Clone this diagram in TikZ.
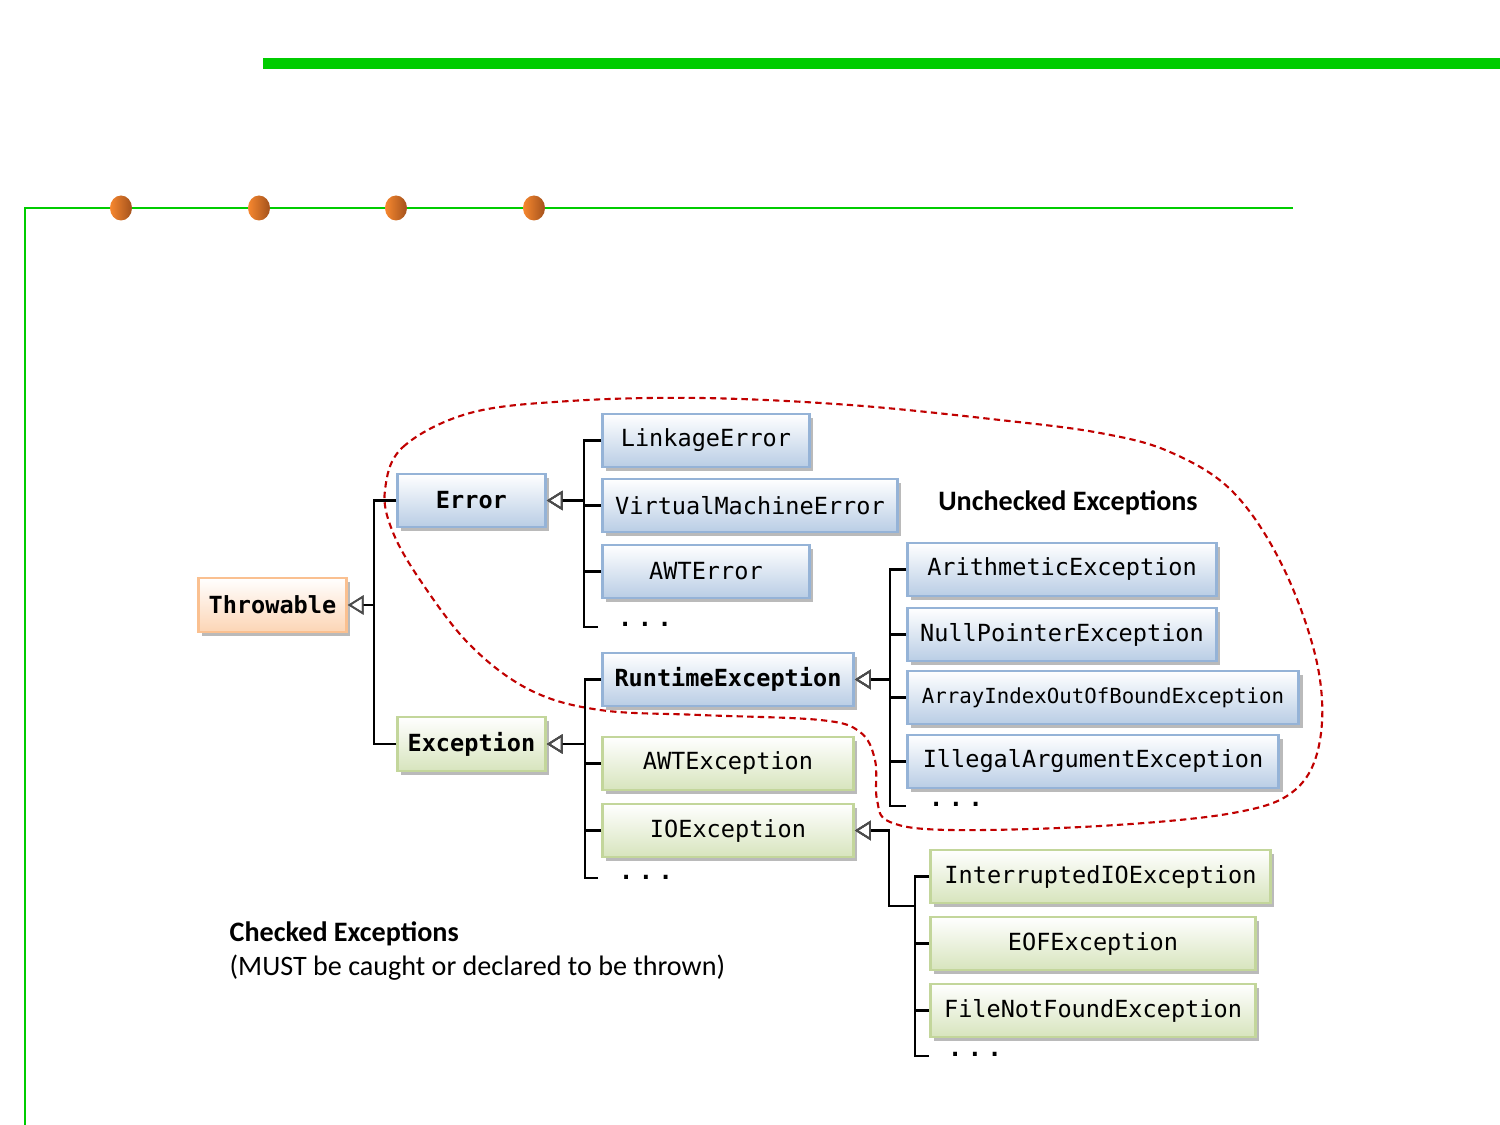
\documentclass[tikz,border=0pt]{standalone}
\usepackage{fontspec}
\setmonofont{DejaVu Sans Mono}
\newfontfamily\calibri{Carlito}
\usetikzlibrary{arrows.meta, shadows}

\definecolor{barGreen}{HTML}{00CC00}
\definecolor{dotOrange}{HTML}{F7882F}
\definecolor{dotBrown}{HTML}{A3511C}
\definecolor{errLine}{HTML}{95B3D7}
\definecolor{errFill}{HTML}{B9CDE5}
\definecolor{excLine}{HTML}{C3D69B}
\definecolor{excFill}{HTML}{D7E4BD}
\definecolor{thrLine}{HTML}{FAC090}
\definecolor{thrFill}{HTML}{FCD5B5}
\definecolor{loopRed}{HTML}{C00000}

\tikzset{
    cls/.style={draw, line width=0.8pt, minimum height=0.53cm, anchor=west, inner sep=0pt,
        font=\ttfamily\fontsize{6.7}{8}\selectfont,
        drop shadow={shadow xshift=1.1pt, shadow yshift=-1.1pt, fill=black!45, opacity=0.6}},
    bold cls/.style={font=\ttfamily\bfseries\fontsize{6.7}{8}\selectfont},
    blue cls/.style={cls, draw=errLine, top color=white, bottom color=errFill},
    green cls/.style={cls, draw=excLine, top color=white, bottom color=excFill},
    orange cls/.style={cls, draw=thrLine, top color=white, bottom color=thrFill},
    inh/.style={line width=0.6pt, -{Triangle[open, length=4.5pt, width=5.5pt, line width=0.5pt, color=black!70]}},
    dots/.style={font=\ttfamily\bfseries\fontsize{6.7}{8}\selectfont, inner sep=0pt},
}

\begin{document}
\begin{tikzpicture}[x=0.01cm, y=-0.01cm]
    \newcommand\colA{396}
    \newcommand\colB{601}
    \newcommand\colC{906}
    \newcommand\colD{929}

    \useasboundingbox (0,0) rectangle (1500,1125);

    % slide frame
    \fill[barGreen] (263,58) rectangle (1500,69);
    \draw[barGreen, line width=0.6pt] (25,1125) -- (25,208) -- (1293,208);
    \shade[left color=dotOrange, right color=dotBrown] (121,208) ellipse (0.11cm and 0.125cm);
    \shade[left color=dotOrange, right color=dotBrown] (259,208) ellipse (0.11cm and 0.125cm);
    \shade[left color=dotOrange, right color=dotBrown] (396,208) ellipse (0.11cm and 0.125cm);
    \shade[left color=dotOrange, right color=dotBrown] (534,208) ellipse (0.11cm and 0.125cm);

    % unchecked region
    \draw[loopRed, dash pattern=on 1.8pt off 1.2pt, line width=0.6pt] plot[smooth cycle, tension=0.6] coordinates {
        (385,490) (403,447) (470,413) (570,401) (700,398) (850,405) (1000,420) (1100,433)
        (1170,452) (1233,492) (1283,567) (1317,663) (1320,740) (1295,790) (1233,813) (1100,826)
        (950,830) (890,822) (877,800) (875,760) (860,732) (820,720) (700,715) (600,710)
        (530,690) (470,645) (420,580) (392,530)};

    \node[orange cls, bold cls, minimum width=1.48cm, minimum height=0.54cm] (Thr) at (197,605) {Throwable};
    \node[blue cls, bold cls, minimum width=1.48cm] (Err) at (\colA,500.5) {Error};
    \node[green cls, bold cls, minimum width=1.48cm, minimum height=0.54cm] (Exc) at (\colA,744) {Exception};

    \node[blue cls, minimum width=2.07cm] (Link) at (\colB,440.5) {LinkageError};
    \node[blue cls, minimum width=2.95cm] (VME) at (\colB,505.5) {VirtualMachineError};
    \node[blue cls, minimum width=2.07cm] (AWTErr) at (\colB,571.5) {AWTError};
    \node[dots] (dotsErr) at (645,624) {.\hspace{1.6pt}.\hspace{1.6pt}.};
    \coordinate (endErr) at (598,627);

    \node[blue cls, bold cls, minimum width=2.51cm] (RTE) at (\colB,679.5) {RuntimeException};
    \node[green cls, minimum width=2.51cm] (AWTExc) at (\colB,763.5) {AWTException};
    \node[green cls, minimum width=2.51cm] (IOE) at (\colB,830.5) {IOException};
    \node[dots] (dotsExc) at (646,877) {.\hspace{1.6pt}.\hspace{1.6pt}.};
    \coordinate (endExc) at (598,878);

    \node[blue cls, minimum width=3.09cm] (Arith) at (\colC,569.5) {ArithmeticException};
    \node[blue cls, minimum width=3.09cm] (NPE) at (\colC,634.5) {NullPointerException};
    \node[blue cls, minimum width=3.91cm, font=\ttfamily\fontsize{5.9}{7}\selectfont] (AIOOBE) at (\colC,697.5) {ArrayIndexOutOfBoundException};
    \node[blue cls, minimum width=3.71cm] (IAE) at (\colC,761.5) {IllegalArgumentException};
    \node[dots] (dotsRTE) at (956,804) {.\hspace{1.6pt}.\hspace{1.6pt}.};
    \coordinate (endRTE) at (906,806);

    \node[green cls, minimum width=3.40cm] (IIOE) at (\colD,876.5) {InterruptedIOException};
    \node[green cls, minimum width=3.25cm] (EOF) at (\colD,943.5) {EOFException};
    \node[green cls, minimum width=3.25cm] (FNF) at (\colD,1010.5) {FileNotFoundException};
    \node[dots] (dotsIOE) at (975,1054) {.\hspace{1.6pt}.\hspace{1.6pt}.};
    \coordinate (endIOE) at (929,1056);
    \coordinate (kneeIOE) at (889,906);

    % inheritance
    \draw[inh] (Err.west) -- ++(-22,0) |- (Thr.east);
    \draw[inh] (Exc.west) -- ++(-22,0) |- (Thr.east);

    \draw[inh] (Link.west) -- ++(-17,0) |- (Err.east);
    \draw[inh] (VME.west) -- ++(-17,0) |- (Err.east);
    \draw[inh] (AWTErr.west) -- ++(-17,0) |- (Err.east);
    \draw[inh] (endErr) -- ++(-14,0) |- (Err.east);

    \draw[inh] (RTE.west) -- ++(-16,0) |- (Exc.east);
    \draw[inh] (AWTExc.west) -- ++(-16,0) |- (Exc.east);
    \draw[inh] (IOE.west) -- ++(-16,0) |- (Exc.east);
    \draw[inh] (endExc) -- ++(-13,0) |- (Exc.east);

    \draw[inh] (Arith.west) -- ++(-16,0) |- (RTE.east);
    \draw[inh] (NPE.west) -- ++(-16,0) |- (RTE.east);
    \draw[inh] (AIOOBE.west) -- ++(-16,0) |- (RTE.east);
    \draw[inh] (IAE.west) -- ++(-16,0) |- (RTE.east);
    \draw[inh] (endRTE) -- ++(-16,0) |- (RTE.east);

    \draw[inh] (IIOE.west) -- ++(-14,0) |- (kneeIOE) |- (IOE.east);
    \draw[inh] (EOF.west) -- ++(-14,0) |- (kneeIOE) |- (IOE.east);
    \draw[inh] (FNF.west) -- ++(-14,0) |- (kneeIOE) |- (IOE.east);
    \draw[inh] (endIOE) -- ++(-14,0) |- (kneeIOE) |- (IOE.east);

    \node[font=\calibri\bfseries\fontsize{8}{10}\selectfont] (labUnc) at (1068,503) {Unchecked Exceptions};
    \node[anchor=west, inner sep=0pt, font=\calibri\bfseries\fontsize{8}{10}\selectfont] (labChk) at (229,934) {Checked Exceptions};
    \node[anchor=west, inner sep=0pt, font=\calibri\fontsize{8}{10}\selectfont] (labChk2) at (229,968) {(MUST be caught or declared to be thrown)};
\end{tikzpicture}
\end{document}
